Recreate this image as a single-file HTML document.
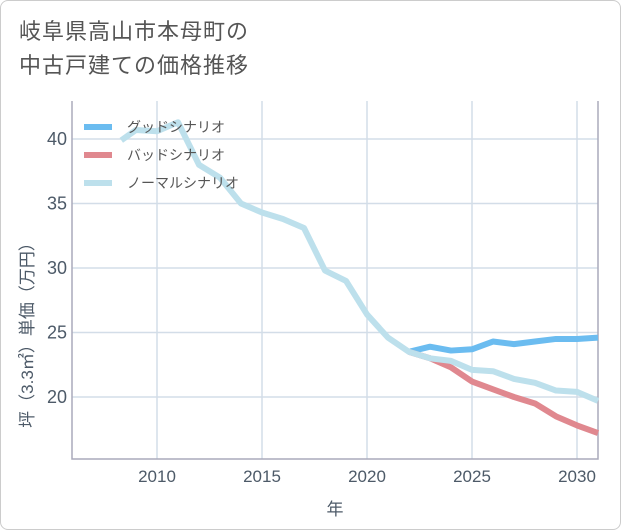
<!DOCTYPE html>
<html><head><meta charset="utf-8"><style>
body{margin:0;background:#fff;font-family:"Liberation Sans","Noto Sans CJK JP",sans-serif;}
#wrap{position:relative;width:619px;height:528px;border:1px solid #ccc;border-radius:8px;overflow:hidden;}
#title{position:absolute;left:18px;top:14px;font-size:22px;line-height:34px;color:#555;letter-spacing:1px;}
</style></head><body>
<div id="wrap">
<div id="title">岐阜県高山市本母町の<br>中古戸建ての価格推移</div>
<svg id="chart" width="621" height="530" style="position:absolute;left:0;top:0"></svg>
</div>
<script>
const years=[2008.3,2009,2010,2011,2012,2013,2014,2015,2016,2017,2018,2019,2020,2021,2022,2023,2024,2025,2026,2027,2028,2029,2030,2031];
const normal=[39.9,40.7,40.6,41.3,38.0,37.0,35.0,34.3,33.8,33.1,29.8,29.0,26.4,24.6,23.5,23.0,22.8,22.1,22.0,21.4,21.1,20.5,20.4,19.7];
const futYears=[2022,2023,2024,2025,2026,2027,2028,2029,2030,2031];
const good=[23.5,23.9,23.6,23.7,24.3,24.1,24.3,24.5,24.5,24.6];
const bad=[23.5,23.0,22.3,21.2,20.6,20.0,19.5,18.5,17.8,17.2];
const xTicks=[2010,2015,2020,2025,2030];
const yTicks=[20,25,30,35,40];
const L=71,R=597,T=100,B=458;
const x=v=>156+(v-2010)*21;
const y=v=>396-(v-20)*12.9;
const svg=document.getElementById('chart');
const NS='http://www.w3.org/2000/svg';
function mk(t,a){const e=document.createElementNS(NS,t);for(const k in a)e.setAttribute(k,a[k]);svg.appendChild(e);return e;}
xTicks.forEach(v=>{
 const g=mk('line',{x1:x(v),x2:x(v),y1:T,y2:B,stroke:'#d3dde8','stroke-width':1.5});
 
 
 const t=mk('text',{x:x(v),y:481,'text-anchor':'middle','font-size':17,fill:'#4d5a68'});
 t.textContent=v;
 
 
});
yTicks.forEach(v=>{
 const g=mk('line',{x1:L,x2:R,y1:y(v),y2:y(v),stroke:'#d3dde8','stroke-width':1.5});
 
 
 const t=mk('text',{x:66,y:y(v)+6,'text-anchor':'end','font-size':18,fill:'#4d5a68'});
 t.textContent=v;
 
 
});
const ax=mk('path',{d:`M${L} ${T}V${B}H${R}V${T}`,fill:'none',stroke:'#aab','stroke-width':1.5});


function line(xs,ys,c,n){const p=mk('polyline',{points:xs.map((v,i)=>x(v)+','+y(ys[i])).join(' '),fill:'none',stroke:c,'stroke-width':6,'stroke-linejoin':'round'});
 
 }
line(futYears,good,'#6bbcf0','good-scenario-line');
line(futYears,bad,'#e0888f','bad-scenario-line');
line(years,normal,'#bde0ec','normal-scenario-line');
[['グッドシナリオ','#6bbcf0'],['バッドシナリオ','#e0888f'],['ノーマルシナリオ','#bde0ec']].forEach((d,i)=>{
 const yy=126+i*28;
 const s=mk('line',{x1:83,x2:111,y1:yy,y2:yy,stroke:d[1],'stroke-width':6});
 
 
 const t=mk('text',{x:126,y:yy+5,'font-size':14,fill:'#555'});
 t.textContent=d[0];
 
 
});
const xt=mk('text',{x:334,y:514,'text-anchor':'middle','font-size':17,fill:'#4d5a68'});
xt.textContent='年';


const yt=mk('text',{x:0,y:0,'text-anchor':'middle','font-size':17,fill:'#4d5a68',transform:'translate(32,330) rotate(-90)'});
yt.textContent='坪（3.3㎡）単価（万円）';


</script>
</body></html>
